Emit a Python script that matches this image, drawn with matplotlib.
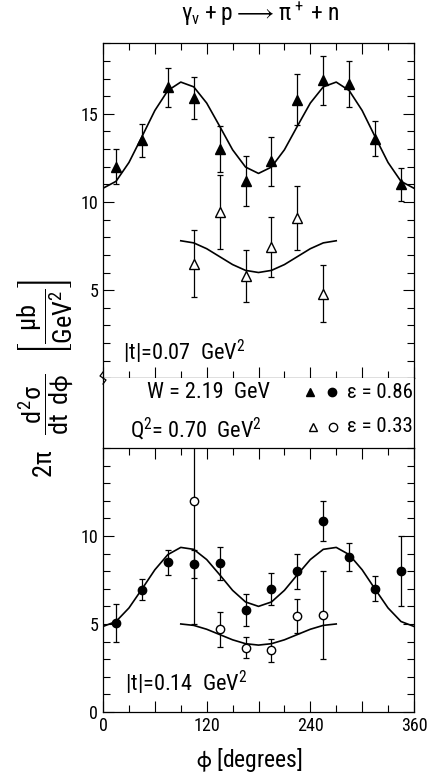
import numpy as np
import matplotlib.pyplot as plt
from matplotlib.ticker import MultipleLocator
from matplotlib.lines import Line2D

# narrow font like the original typesetting, DejaVu as fallback
plt.rcParams['font.family'] = ['Roboto Condensed', 'Liberation Sans Narrow', 'DejaVu Sans']
plt.rcParams['mathtext.default'] = 'regular'

# data
phi = [15, 45, 75, 105, 135, 165, 195, 225, 255, 285, 315, 345]
phi_lo = [105, 135, 165, 195, 225, 255]

# |t| = 0.07, eps = 0.86 (filled triangles) and eps = 0.33 (open triangles)
top_hi = [12.0, 13.5, 16.5, 15.9, 13.0, 11.2, 12.3, 15.8, 16.9, 16.7, 13.6, 11.0]
top_hi_err = [1.0, 0.95, 1.1, 1.2, 1.3, 1.4, 1.4, 1.45, 1.4, 1.3, 1.0, 0.95]
top_lo = [6.5, 9.45, 5.8, 7.45, 9.1, 4.8]
top_lo_err = [1.9, 2.1, 1.5, 1.7, 1.8, 1.6]

# |t| = 0.14, eps = 0.86 (filled circles) and eps = 0.33 (open circles)
bot_hi = [5.05, 6.95, 8.5, 8.4, 8.45, 5.8, 7.0, 8.0, 10.85, 8.8, 7.0, 8.0]
bot_hi_err = [1.1, 0.6, 0.7, 0.8, 0.95, 0.9, 0.9, 1.0, 1.15, 0.8, 0.7, 2.0]
bot_lo = [12.0, 4.7, 3.65, 3.5, 5.45, 5.5]
bot_lo_err_dn = [7.0, 1.0, 0.6, 0.65, 0.95, 2.5]
bot_lo_err_up = [4.0, 1.0, 0.6, 0.65, 0.95, 2.5]

# fitted curves as drawn
fit_phi = list(range(0, 361, 15))
fit_phi_lo = list(range(90, 271, 15))
top_hi_fit = [10.78, 11.17, 12.24, 13.70, 15.19, 16.32, 16.80, 16.53, 15.61, 14.30, 12.96, 11.98, 11.62,
              11.98, 12.96, 14.30, 15.61, 16.53, 16.80, 16.32, 15.19, 13.70, 12.24, 11.17, 10.78]
top_lo_fit = [7.8, 7.68, 7.35, 6.9, 6.45, 6.12, 6.0, 6.12, 6.45, 6.9, 7.35, 7.68, 7.8]
bot_hi_fit = [4.86, 5.14, 5.91, 6.98, 8.08, 8.94, 9.35, 9.24, 8.66, 7.80, 6.91, 6.25, 6.0,
              6.25, 6.91, 7.80, 8.66, 9.24, 9.35, 8.94, 8.08, 6.98, 5.91, 5.14, 4.86]
bot_lo_fit = [5.0, 4.92, 4.7, 4.4, 4.1, 3.88, 3.8, 3.88, 4.1, 4.4, 4.7, 4.92, 5.0]

x_ticks = [0, 60, 120, 180, 240, 300, 360]
x_labels = ['0', '', '120', '', '240', '', '360']

fig = plt.figure(figsize=(4.33, 7.8), dpi=100)
ax_top = fig.add_axes([0.238, 0.515, 0.718, 0.4295])
ax_mid = fig.add_axes([0.238, 0.426, 0.718, 0.089])
ax_bot = fig.add_axes([0.238, 0.0872, 0.718, 0.3385])

eb = dict(color='black', lw=0.9, capsize=2.5, elinewidth=0.9, capthick=0.9, ls='none')


def style(ax, ymax, ymajor):
    ax.set_xlim(0, 360)
    ax.set_ylim(0, ymax)
    ax.set_xticks(x_ticks)
    ax.xaxis.set_minor_locator(MultipleLocator(30))
    ax.set_yticks(ymajor)
    ax.yaxis.set_minor_locator(MultipleLocator(1))
    ax.tick_params(which='both', direction='in', top=True, right=True, width=0.8, labelsize=13)
    ax.tick_params(which='major', length=8)
    ax.tick_params(which='minor', length=5)
    for s in ax.spines.values():
        s.set_linewidth(0.9)


# top panel
style(ax_top, 19, [5, 10, 15])
ax_top.plot(fit_phi, top_hi_fit, color='black', lw=1.2)
ax_top.plot(fit_phi_lo, top_lo_fit, color='black', lw=1.2)
ax_top.errorbar(phi, top_hi, yerr=top_hi_err, marker='^', ms=7, mfc='black', mec='black', **eb)
ax_top.errorbar(phi_lo, top_lo, yerr=top_lo_err, marker='^', ms=7, mfc='white', mec='black', **eb)
ax_top.set_xticklabels([])
ax_top.text(0.064, 0.078, '|t|=0.07  GeV$^2$', transform=ax_top.transAxes, fontsize=16, va='center')

# bottom panel
style(ax_bot, 15, [0, 5, 10])
ax_bot.plot(fit_phi, bot_hi_fit, color='black', lw=1.2)
ax_bot.plot(fit_phi_lo, bot_lo_fit, color='black', lw=1.2)
ax_bot.errorbar(phi, bot_hi, yerr=bot_hi_err, marker='o', ms=6, mfc='black', mec='black', **eb)
ax_bot.errorbar(phi_lo, bot_lo, yerr=[bot_lo_err_dn, bot_lo_err_up], marker='o', ms=6,
                mfc='white', mec='black', **eb)
ax_bot.set_xticklabels(x_labels)
ax_bot.text(0.07, 0.11, '|t|=0.14  GeV$^2$', transform=ax_bot.transAxes, fontsize=16, va='center')

# middle band with kinematics
ax_mid.set_xlim(0, 360)
ax_mid.set_ylim(0, 1)
ax_mid.set_xticks([])
ax_mid.set_yticks([])
ax_mid.spines['top'].set_visible(False)
ax_mid.spines['bottom'].set_visible(False)
for s in ax_mid.spines.values():
    s.set_linewidth(0.9)
ax_mid.text(0.141, 0.8, 'W = 2.19  GeV', transform=ax_mid.transAxes, fontsize=16, va='center')
ax_mid.text(0.087, 0.27, 'Q$^2$= 0.70  GeV$^2$', transform=ax_mid.transAxes, fontsize=16, va='center')
ax_mid.plot([240], [0.8], ls='none', marker='^', ms=6, color='black')
ax_mid.plot([265], [0.8], ls='none', marker='o', ms=6, color='black')
ax_mid.plot([243], [0.3], ls='none', marker='^', ms=6, mfc='white', mec='black')
ax_mid.plot([266], [0.3], ls='none', marker='o', ms=6, mfc='white', mec='black')
ax_mid.text(0.997, 0.8, 'ε = 0.86', transform=ax_mid.transAxes, fontsize=15, va='center', ha='right')
ax_mid.text(0.997, 0.3, 'ε = 0.33', transform=ax_mid.transAxes, fontsize=15, va='center', ha='right')

# small break mark on the left axis
fig.add_artist(Line2D([103 / 433, 100 / 433, 106 / 433, 103 / 433],
                      [1 - 372 / 780, 1 - 376 / 780, 1 - 380 / 780, 1 - 384 / 780],
                      color='black', lw=0.9))

fig.text(0.600, 0.982, r'$\gamma_v + p \longrightarrow \pi^+ + n$', fontsize=17, ha='center', va='center')
fig.text(0.577, 0.026, r'$\phi$ [degrees]', fontsize=17, ha='center', va='center')
fig.text(0.105, 0.515, r'$2\pi\ \ \dfrac{d^2\sigma}{dt\ d\phi}\ \ \left[\dfrac{\mu b}{GeV^2}\right]$',
         rotation=90, fontsize=19, ha='center', va='center')

fig.savefig('out.png', dpi=100)
